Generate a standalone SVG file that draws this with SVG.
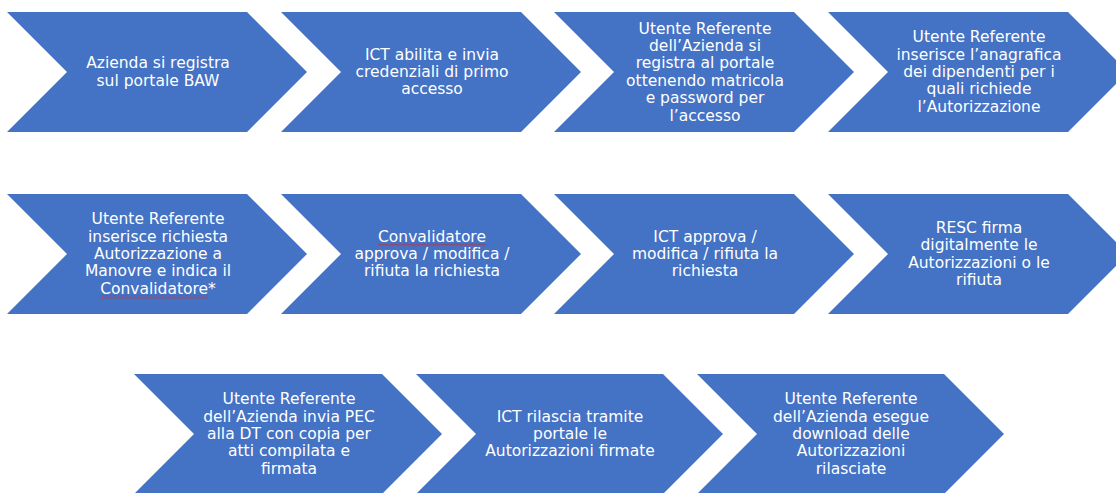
<svg xmlns="http://www.w3.org/2000/svg" width="1116" height="493" viewBox="0 0 1116 493">
<style>
.chev{fill:#4472C4;}
.lbl{font-family:"DejaVu Sans",Verdana,sans-serif;font-size:15.5px;fill:#FFFFFF;text-anchor:middle;}
</style>
<defs>
<pattern id="squig" patternUnits="userSpaceOnUse" width="4" height="3">
<path d="M0,0.6 L2,2.4 L4,0.6" fill="none" stroke="#E02020" stroke-width="0.8"/>
</pattern>
</defs>
<rect width="1116" height="493" fill="#FFFFFF"/>
<g id="connectors"></g>
<g id="n1"><polygon class="chev" points="7,12 247,12 307,72 247,132 7,132 67,72"/>
<text class="lbl" y="68.3"><tspan x="158">Azienda si registra</tspan><tspan x="158" dy="17.4">sul portale BAW</tspan></text></g>
<g id="n2"><polygon class="chev" points="281,12 521,12 581,72 521,132 281,132 341,72"/>
<text class="lbl" y="59.6"><tspan x="432">ICT abilita e invia</tspan><tspan x="432" dy="17.4">credenziali di primo</tspan><tspan x="432" dy="17.4">accesso</tspan></text></g>
<g id="n3"><polygon class="chev" points="554,12 794,12 854,72 794,132 554,132 614,72"/>
<text class="lbl" y="33.5"><tspan x="705">Utente Referente</tspan><tspan x="705" dy="17.4">dell’Azienda si</tspan><tspan x="705" dy="17.4">registra al portale</tspan><tspan x="705" dy="17.4">ottenendo matricola</tspan><tspan x="705" dy="17.4">e password per</tspan><tspan x="705" dy="17.4">l’accesso</tspan></text></g>
<g id="n4"><polygon class="chev" points="828,12 1068,12 1128,72 1068,132 828,132 888,72"/>
<text class="lbl" y="42.2"><tspan x="979">Utente Referente</tspan><tspan x="979" dy="17.4">inserisce l’anagrafica</tspan><tspan x="979" dy="17.4">dei dipendenti per i</tspan><tspan x="979" dy="17.4">quali richiede</tspan><tspan x="979" dy="17.4">l’Autorizzazione</tspan></text></g>
<g id="n5"><polygon class="chev" points="7,194 247,194 307,254 247,314 7,314 67,254"/>
<text class="lbl" y="224.2"><tspan x="158">Utente Referente</tspan><tspan x="158" dy="17.4">inserisce richiesta</tspan><tspan x="158" dy="17.4">Autorizzazione a</tspan><tspan x="158" dy="17.4">Manovre e indica il</tspan><tspan x="158" dy="17.4">Convalidatore*</tspan></text>
<rect x="100" y="295.5" width="108" height="3" fill="url(#squig)"/></g>
<g id="n6"><polygon class="chev" points="281,194 521,194 581,254 521,314 281,314 341,254"/>
<text class="lbl" y="241.6"><tspan x="432">Convalidatore</tspan><tspan x="432" dy="17.4">approva / modifica /</tspan><tspan x="432" dy="17.4">rifiuta la richiesta</tspan></text>
<rect x="378" y="243.3" width="108" height="3" fill="url(#squig)"/></g>
<g id="n7"><polygon class="chev" points="554,194 794,194 854,254 794,314 554,314 614,254"/>
<text class="lbl" y="241.6"><tspan x="705">ICT approva /</tspan><tspan x="705" dy="17.4">modifica / rifiuta la</tspan><tspan x="705" dy="17.4">richiesta</tspan></text></g>
<g id="n8"><polygon class="chev" points="828,194 1068,194 1128,254 1068,314 828,314 888,254"/>
<text class="lbl" y="232.9"><tspan x="979">RESC firma</tspan><tspan x="979" dy="17.4">digitalmente le</tspan><tspan x="979" dy="17.4">Autorizzazioni o le</tspan><tspan x="979" dy="17.4">rifiuta</tspan></text></g>
<g id="n9"><polygon class="chev" points="134,374 382,374 442,434 382,494 134,494 194,434"/>
<text class="lbl" y="404.2"><tspan x="289">Utente Referente</tspan><tspan x="289" dy="17.4">dell’Azienda invia PEC</tspan><tspan x="289" dy="17.4">alla DT con copia per</tspan><tspan x="289" dy="17.4">atti compilata e</tspan><tspan x="289" dy="17.4">firmata</tspan></text></g>
<g id="n10"><polygon class="chev" points="416,374 663,374 723,434 663,494 416,494 476,434"/>
<text class="lbl" y="421.6"><tspan x="570">ICT rilascia tramite</tspan><tspan x="570" dy="17.4">portale le</tspan><tspan x="570" dy="17.4">Autorizzazioni firmate</tspan></text></g>
<g id="n11"><polygon class="chev" points="697,374 944,374 1004,434 944,494 697,494 757,434"/>
<text class="lbl" y="404.2"><tspan x="851">Utente Referente</tspan><tspan x="851" dy="17.4">dell’Azienda esegue</tspan><tspan x="851" dy="17.4">download delle</tspan><tspan x="851" dy="17.4">Autorizzazioni</tspan><tspan x="851" dy="17.4">rilasciate</tspan></text></g>
</svg>
